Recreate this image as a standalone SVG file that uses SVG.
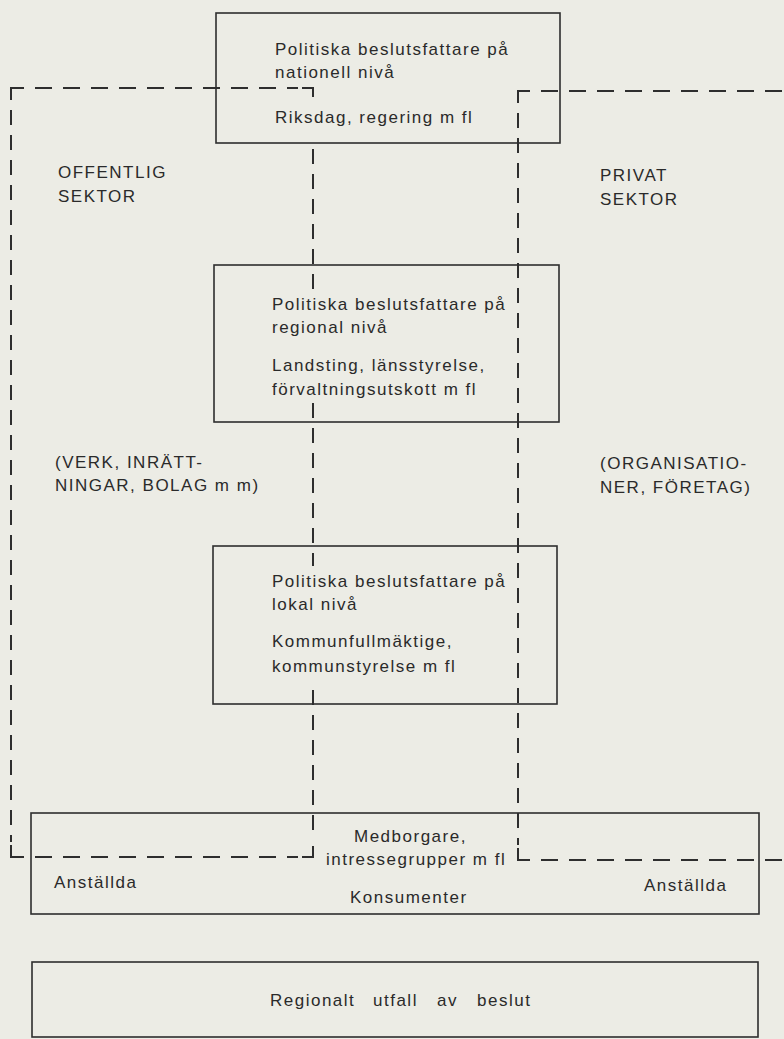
<svg xmlns="http://www.w3.org/2000/svg" width="784" height="1039" viewBox="0 0 784 1039">
<style>
.bg{fill:#ecece5}
.box{fill:none;stroke:#2e2e2e;stroke-width:1.6}
.dh{fill:none;stroke:#2e2e2e;stroke-width:2;stroke-dasharray:17 11}
.dv{fill:none;stroke:#2e2e2e;stroke-width:2;stroke-dasharray:15 10}
.corner{fill:none;stroke:#2e2e2e;stroke-width:2}
.t{font-family:"Liberation Sans",Arial,sans-serif;font-size:17px;letter-spacing:1.5px;fill:#2a2a2a}
</style>
<rect class="bg" x="0" y="0" width="784" height="1039"/>

<g id="connectors">
  <!-- offentlig sektor boundary -->
  <path class="corner" d="M11 100 V88 H24"/>
  <line class="dh" x1="35" y1="88" x2="298" y2="88"/>
  <path class="corner" d="M302 88 H313 V97"/>
  <line class="dv" x1="11" y1="110" x2="11" y2="842"/>
  <path class="corner" d="M11 845 V857 H24"/>
  <line class="dh" x1="35" y1="857" x2="298" y2="857"/>
  <path class="corner" d="M302 857 H313 V846"/>
  <line class="dv" x1="313" y1="149" x2="313" y2="290"/>
  <line class="dv" x1="313" y1="403" x2="313" y2="566"/>
  <line class="dv" x1="313" y1="690" x2="313" y2="840"/>
  <!-- privat sektor boundary -->
  <path class="corner" d="M518 103 V91 H530"/>
  <line class="dh" x1="541" y1="91" x2="784" y2="91"/>
  <line class="dv" x1="518" y1="113" x2="518" y2="845"/>
  <path class="corner" d="M518 848 V860 H530"/>
  <line class="dh" x1="541" y1="860" x2="784" y2="860"/>
</g>

<g id="sector-offentlig">
  <text class="t" x="58" y="178">OFFENTLIG</text>
  <text class="t" x="58" y="202">SEKTOR</text>
  <text class="t" x="55" y="468">(VERK, INRÄTT-</text>
  <text class="t" x="55" y="491">NINGAR, BOLAG m m)</text>
</g>

<g id="sector-privat">
  <text class="t" x="600" y="181">PRIVAT</text>
  <text class="t" x="600" y="205">SEKTOR</text>
  <text class="t" x="600" y="469">(ORGANISATIO-</text>
  <text class="t" x="600" y="493">NER, FÖRETAG)</text>
</g>

<g id="node-national">
  <rect class="box" x="216" y="13" width="344" height="130"/>
  <text class="t" x="275" y="55">Politiska beslutsfattare på</text>
  <text class="t" x="275" y="78">nationell nivå</text>
  <text class="t" x="275" y="123">Riksdag, regering m fl</text>
</g>

<g id="node-regional">
  <rect class="box" x="214" y="265" width="345" height="157"/>
  <text class="t" x="272" y="310">Politiska beslutsfattare på</text>
  <text class="t" x="272" y="333">regional nivå</text>
  <text class="t" x="272" y="371">Landsting, länsstyrelse,</text>
  <text class="t" x="272" y="395">förvaltningsutskott m fl</text>
</g>

<g id="node-local">
  <rect class="box" x="213" y="546" width="344" height="158"/>
  <text class="t" x="272" y="587">Politiska beslutsfattare på</text>
  <text class="t" x="272" y="610">lokal nivå</text>
  <text class="t" x="272" y="647">Kommunfullmäktige,</text>
  <text class="t" x="272" y="672">kommunstyrelse m fl</text>
</g>

<g id="node-citizens">
  <rect class="box" x="31" y="813" width="728" height="101"/>
  <text class="t" x="354" y="842">Medborgare,</text>
  <text class="t" x="326" y="865">intressegrupper m fl</text>
  <text class="t" x="350" y="903">Konsumenter</text>
  <text class="t" x="54" y="888">Anställda</text>
  <text class="t" x="644" y="891">Anställda</text>
</g>

<g id="node-outcome">
  <rect class="box" x="32" y="962" width="726" height="75"/>
  <text class="t" y="1006"><tspan x="270">Regionalt</tspan><tspan x="373">utfall</tspan><tspan x="437">av</tspan><tspan x="477">beslut</tspan></text>
</g>
</svg>
